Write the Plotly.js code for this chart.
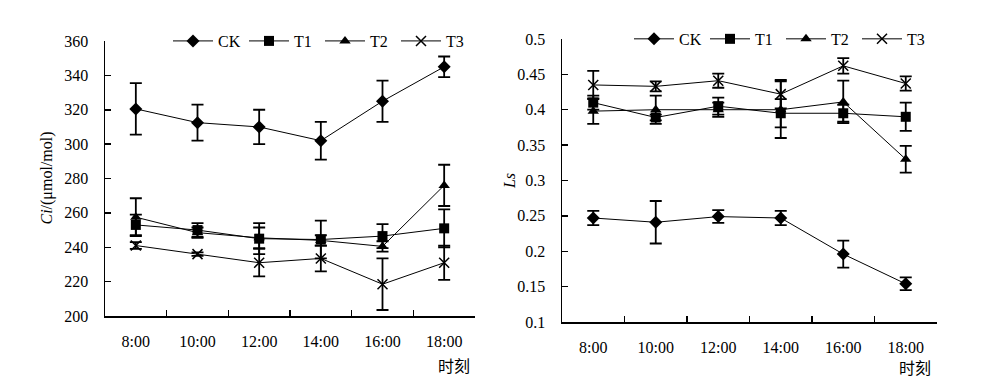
<!DOCTYPE html>
<html>
<head>
<meta charset="utf-8">
<script src="https://cdn.plot.ly/plotly-3.0.1.min.js"></script>
<style>html,body{margin:0;padding:0;background:#fff;}#chart{width:1000px;height:378px;}</style>
</head>
<body>
<div id="chart"></div>
<script>
const times = ['8:00','10:00','12:00','14:00','16:00','18:00'];
const seriesNames = ['CK','T1','T2','T3'];

const ciCK = [320.5, 312.5, 310, 302, 325, 345];
const ciCKerr = [15, 10.5, 10, 11, 12, 6];
const ciT1 = [253, 250, 245, 244.5, 246.5, 251];
const ciT1err = [6, 4, 9, 11, 7, 11];
const ciT2 = [257.5, 248.5, 245.5, 244, 240.5, 276];
const ciT2err = [11, 3, 6, 3, 3, 12];
const ciT3 = [241, 236, 231, 233.5, 218.5, 231];
const ciT3err = [2, 1, 8, 7.5, 15, 10];

const lsCK = [0.247, 0.241, 0.249, 0.247, 0.196, 0.154];
const lsCKerr = [0.01, 0.03, 0.009, 0.01, 0.019, 0.009];
const lsT1 = [0.41, 0.389, 0.405, 0.395, 0.395, 0.39];
const lsT1err = [0.01, 0.004, 0.012, 0.02, 0.012, 0.02];
const lsT2 = [0.398, 0.40, 0.40, 0.40, 0.411, 0.33];
const lsT2err = [0.018, 0.02, 0.01, 0.04, 0.03, 0.019];
const lsT3 = [0.435, 0.433, 0.441, 0.422, 0.462, 0.437];
const lsT3err = [0.02, 0.007, 0.01, 0.02, 0.011, 0.01];

const symbols = ['diamond', 'square', 'triangle-up', 'x-thin-open'];
const sizes = [10, 10, 10, 10];
const FONT = 'Liberation Serif';

function mk(name, y, err, i, xa, ya, leg) {
  return {
    type: 'scatter', mode: 'lines+markers', name: name,
    x: times, y: y, xaxis: xa, yaxis: ya, legend: leg,
    line: {color: '#000', width: 1},
    marker: {symbol: symbols[i], size: sizes[i], color: '#000', line: {color: '#000', width: i === 3 ? 1.5 : 0}},
    error_y: {type: 'data', array: err, visible: true, color: '#000', thickness: 1.8, width: 6}
  };
}

const ciData = [ciCK, ciT1, ciT2, ciT3];
const ciErr = [ciCKerr, ciT1err, ciT2err, ciT3err];
const lsData = [lsCK, lsT1, lsT2, lsT3];
const lsErr = [lsCKerr, lsT1err, lsT2err, lsT3err];

const traces = [];
seriesNames.forEach((n, i) => traces.push(mk(n, ciData[i], ciErr[i], i, 'x', 'y', 'legend')));
seriesNames.forEach((n, i) => traces.push(mk(n, lsData[i], lsErr[i], i, 'x2', 'y2', 'legend2')));

const xBase = {
  type: 'category', range: [-0.5, 5.5], showline: true, linecolor: '#000', linewidth: 1.5,
  ticks: 'inside', ticklen: 6, tickwidth: 1.5, tickcolor: '#000', tickson: 'boundaries',
  showgrid: false, zeroline: false, ticklabelstandoff: 10, tickangle: 0, automargin: false,
  tickfont: {family: FONT, size: 16, color: '#000'}
};
const yBase = {
  showline: true, linecolor: '#000', linewidth: 1.5, ticks: 'inside', ticklen: 6, tickwidth: 1.5,
  tickcolor: '#000', showgrid: false, zeroline: false, ticklabelstandoff: 12, automargin: false,
  tickfont: {family: FONT, size: 16, color: '#000'}
};
const legBase = {
  orientation: 'h', bgcolor: 'rgba(0,0,0,0)', font: {family: FONT, size: 16, color: '#000'},
  xanchor: 'left', yanchor: 'middle', entrywidth: 21, entrywidthmode: 'pixels', itemwidth: 40,
  tracegroupgap: 0
};

const layout = {
  width: 1000, height: 378,
  margin: {l: 0, r: 0, t: 0, b: 0, autoexpand: false},
  paper_bgcolor: '#fff', plot_bgcolor: 'rgba(0,0,0,0)',
  font: {family: FONT, size: 16, color: '#000'},
  xaxis: Object.assign({}, xBase, {domain: [0.105, 0.475], anchor: 'y'}),
  yaxis: Object.assign({}, yBase, {domain: [0.164, 0.8915], range: [200, 360], dtick: 20, anchor: 'x'}),
  xaxis2: Object.assign({}, xBase, {domain: [0.562, 0.937], anchor: 'y2'}),
  yaxis2: Object.assign({}, yBase, {domain: [0.148, 0.897], range: [0.1, 0.5], dtick: 0.05, anchor: 'x2'}),
  legend: Object.assign({}, legBase, {x: 0.168, y: 0.8915}),
  legend2: Object.assign({}, legBase, {x: 0.629, y: 0.897}),
  annotations: [
    {xref: 'paper', yref: 'paper', x: 0.0475, y: 0.529, text: '<i>Ci</i>/(μmol/mol)', textangle: -90,
     showarrow: false, font: {family: FONT, size: 16, color: '#000'}, xanchor: 'center', yanchor: 'middle'},
    {xref: 'paper', yref: 'paper', x: 0.509, y: 0.521, text: '<i>Ls</i>', textangle: -90,
     showarrow: false, font: {family: FONT, size: 16, color: '#000'}, xanchor: 'center', yanchor: 'middle'},
    {xref: 'paper', yref: 'paper', x: 0.472, y: (378 - 364.5) / 378, text: '时刻',
     showarrow: false, font: {family: 'Noto Sans CJK SC', size: 16, color: '#000'}, xanchor: 'right', yanchor: 'middle'},
    {xref: 'paper', yref: 'paper', x: 0.933, y: (378 - 366.5) / 378, text: '时刻',
     showarrow: false, font: {family: 'Noto Sans CJK SC', size: 16, color: '#000'}, xanchor: 'right', yanchor: 'middle'}
  ],
  showlegend: true
};

Plotly.newPlot('chart', traces, layout, {staticPlot: true, displayModeBar: false});
</script>
</body>
</html>
